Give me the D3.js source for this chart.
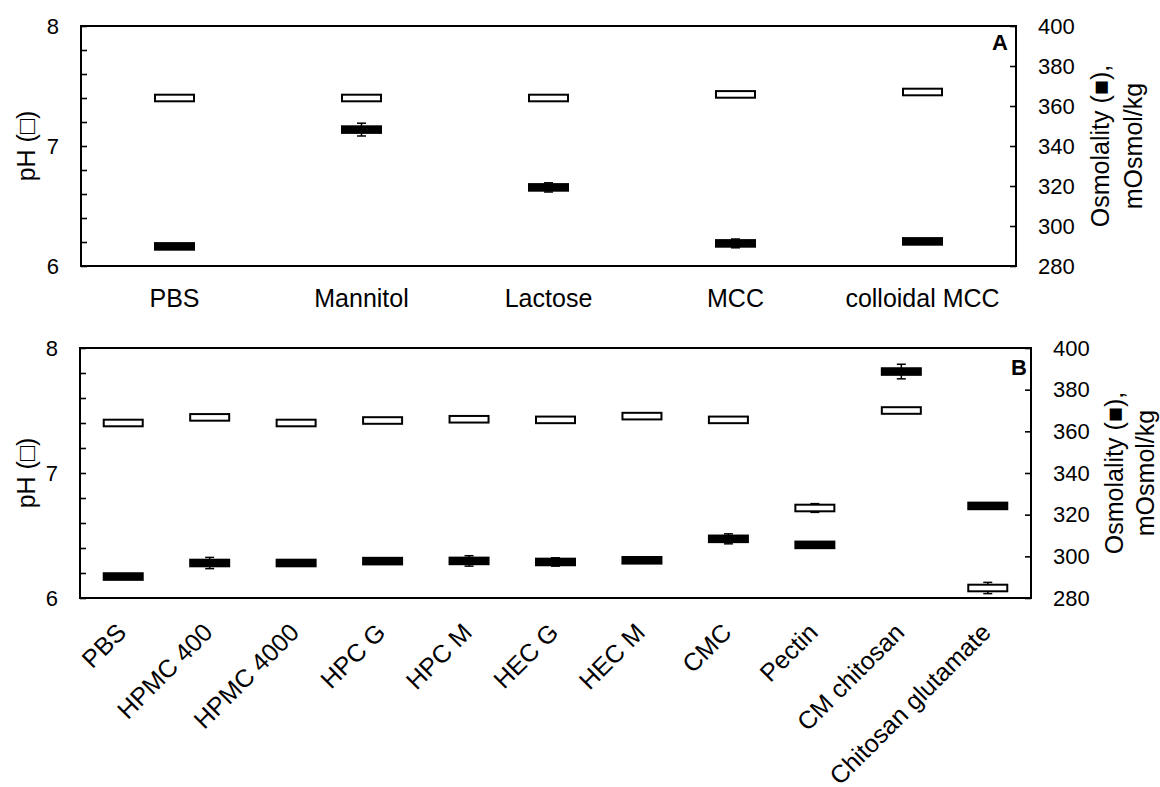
<!DOCTYPE html>
<html>
<head>
<meta charset="utf-8">
<script src="https://cdn.jsdelivr.net/npm/d3@7"></script>
<style>
  html, body { margin: 0; padding: 0; background: #fff; }
  svg { display: block; }
  text { font-family: "Liberation Sans", Arial, Helvetica, sans-serif; fill: #000; }
</style>
</head>
<body>
<svg id="chart" width="1160" height="787"></svg>
<script>
// Panel A: excipient solutions
const catsA = ["PBS", "Mannitol", "Lactose", "MCC", "colloidal MCC"];
const phA = [7.40, 7.40, 7.40, 7.43, 7.45];
const phErrA = [0.01, 0.01, 0.01, 0.01, 0.01];
const osmA = [289.8, 348.2, 319.3, 291.3, 292.3];
const osmErrA = [1.0, 3.2, 2.3, 2.2, 1.0];

// Panel B: polymer solutions
const catsB = ["PBS", "HPMC 400", "HPMC 4000", "HPC G", "HPC M", "HEC G", "HEC M",
               "CMC", "Pectin", "CM chitosan", "Chitosan glutamate"];
const phB = [7.40, 7.445, 7.40, 7.42, 7.43, 7.425, 7.455, 7.425, 6.72, 7.50, 6.08];
const phErrB = [0.01, 0.01, 0.01, 0.01, 0.01, 0.01, 0.01, 0.01, 0.035, 0.01, 0.045];
const osmB = [290.3, 296.8, 296.8, 297.7, 297.8, 297.3, 298.1, 308.4, 305.5, 388.7, 324.2];
const osmErrB = [1.0, 2.7, 1.5, 1.5, 2.5, 2.0, 1.0, 2.4, 1.0, 3.5, 1.0];

// Axis ticks
const phTicks = d3.range(6, 8.0001, 0.2).map(v => +v.toFixed(1));
const osmTicks = [280, 300, 320, 340, 360, 380, 400];

const FONT = "Liberation Sans, Arial, sans-serif";
const svg = d3.select("#chart");

function drawPanel(cfg) {
  const { left, right, top, bottom, cats, ph, phErr, osm, osmErr, letter, letterX, letterY,
          rotated, titleGap1, titleGap2 } = cfg;
  const g = svg.append("g");

  const x = d3.scaleBand().domain(cats).range([left, right]).padding(0);
  const yPh = d3.scaleLinear().domain([6, 8]).range([bottom, top]);
  const yOsm = d3.scaleLinear().domain([280, 400]).range([bottom, top]);

  // left pH axis, ticks pointing inward
  const axL = g.append("g").attr("transform", `translate(${left},0)`)
    .call(d3.axisLeft(yPh).tickValues(phTicks).tickSizeInner(-6).tickSizeOuter(0).tickPadding(22)
      .tickFormat(d => Number.isInteger(Math.round(d * 10) / 10) ? d3.format("d")(d) : ""));
  axL.select(".domain").remove();
  axL.selectAll("line").attr("stroke", "#000").attr("stroke-width", 1.6);
  axL.selectAll("text").attr("font-size", 22).attr("font-family", FONT);

  // right osmolality axis, ticks pointing inward
  const axR = g.append("g").attr("transform", `translate(${right},0)`)
    .call(d3.axisRight(yOsm).tickValues(osmTicks).tickSizeInner(-6).tickSizeOuter(0).tickPadding(22));
  axR.select(".domain").remove();
  axR.selectAll("line").attr("stroke", "#000").attr("stroke-width", 1.6);
  axR.selectAll("text").attr("font-size", 22).attr("font-family", FONT);

  // frame
  g.append("rect").attr("x", left).attr("y", top).attr("width", right - left).attr("height", bottom - top)
    .attr("fill", "none").attr("stroke", "#000").attr("stroke-width", 2);

  const cx = d => x(d) + x.bandwidth() / 2;
  const capW = 9;

  function errorBars(vals, errs, scale) {
    const eg = g.append("g").attr("stroke", "#000").attr("stroke-width", 1.5);
    cats.forEach((c, i) => {
      const y0 = scale(vals[i] - errs[i]), y1 = scale(vals[i] + errs[i]);
      eg.append("line").attr("x1", cx(c)).attr("x2", cx(c)).attr("y1", y0).attr("y2", y1);
      eg.append("line").attr("x1", cx(c) - capW / 2).attr("x2", cx(c) + capW / 2).attr("y1", y0).attr("y2", y0);
      eg.append("line").attr("x1", cx(c) - capW / 2).attr("x2", cx(c) + capW / 2).attr("y1", y1).attr("y2", y1);
    });
  }

  errorBars(ph, phErr, yPh);
  errorBars(osm, osmErr, yOsm);

  // osmolality: filled markers
  g.append("g").selectAll("rect").data(cats).join("rect")
    .attr("x", d => cx(d) - 20.5).attr("width", 41)
    .attr("y", (d, i) => yOsm(osm[i]) - 4.3).attr("height", 8.6)
    .attr("fill", "#000");

  // pH: open markers
  g.append("g").selectAll("rect").data(cats).join("rect")
    .attr("x", d => cx(d) - 19.5).attr("width", 39)
    .attr("y", (d, i) => yPh(ph[i]) - 3.3).attr("height", 6.6)
    .attr("fill", "#fff").attr("stroke", "#000").attr("stroke-width", 2);

  // category labels
  if (!rotated) {
    g.append("g").selectAll("text").data(cats).join("text")
      .attr("x", d => cx(d)).attr("y", bottom + 41)
      .attr("text-anchor", "middle").attr("font-size", 25).text(d => d);
  } else {
    g.append("g").selectAll("text").data(cats).join("text")
      .attr("transform", d => `translate(${cx(d) + 4.5},${bottom + 36}) rotate(-45)`)
      .attr("text-anchor", "end").attr("font-size", 25).text(d => d);
  }

  // axis titles
  const midY = (top + bottom) / 2;
  g.append("text").attr("transform", `translate(35,${midY}) rotate(-90)`)
    .attr("text-anchor", "middle").attr("font-size", 25).text("pH (\u25A1)");
  g.append("text").attr("transform", `translate(${right + titleGap1},${midY}) rotate(-90)`)
    .attr("text-anchor", "middle").attr("font-size", 25).text("Osmolality (\u25A0),");
  g.append("text").attr("transform", `translate(${right + titleGap2},${midY}) rotate(-90)`)
    .attr("text-anchor", "middle").attr("font-size", 25).text("mOsmol/kg");

  // panel letter
  g.append("text").attr("x", letterX).attr("y", letterY)
    .attr("text-anchor", "end").attr("font-size", 22).attr("font-weight", "bold").text(letter);
}

drawPanel({ left: 81, right: 1016, top: 26, bottom: 266, cats: catsA, ph: phA, phErr: phErrA,
  osm: osmA, osmErr: osmErrA, letter: "A", letterX: 1008, letterY: 50, rotated: false,
  titleGap1: 93, titleGap2: 126 });
drawPanel({ left: 80, right: 1031, top: 348, bottom: 598, cats: catsB, ph: phB, phErr: phErrB,
  osm: osmB, osmErr: osmErrB, letter: "B", letterX: 1027, letterY: 375, rotated: true,
  titleGap1: 92, titleGap2: 123 });
</script>
</body>
</html>
